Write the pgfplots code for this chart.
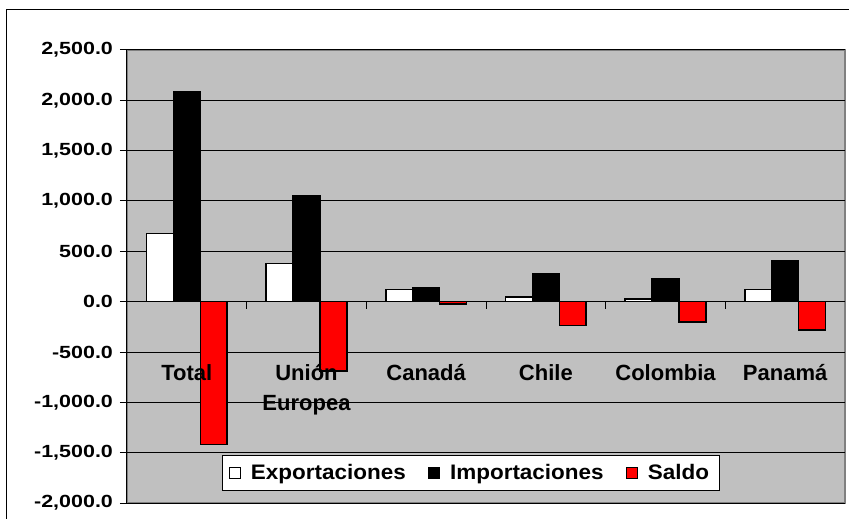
\documentclass[border=0pt]{standalone}
\usepackage{fontspec}
\setmainfont{Liberation Sans}
\newfontfamily\tickfont{Liberation Sans}[FakeStretch=1.22]
\newfontfamily\legfont{Liberation Sans}[FakeStretch=1.07]
\usepackage{pgfplots}
\pgfplotsset{compat=1.18}
\definecolor{plotgray}{HTML}{C0C0C0}
\definecolor{bordergray}{HTML}{808080}
\pgfplotsset{common/.style={
  at={(0,0)}, anchor=south west,
  scale only axis, width=359pt, height=226.5pt,
  ymin=-2000, ymax=2500,
  xmin=-0.5, xmax=5.5,
  ytick={-2000,-1500,...,2500}}}
\begin{document}
\begin{tikzpicture}
% background and gridlines
\begin{axis}[common,
  axis background/.style={fill=plotgray, draw=bordergray, line width=0.75pt},
  axis line style={draw=none},
  xtick=\empty, yticklabels={}, ytick style={draw=none},
  ymajorgrids, grid style={black, line width=0.5pt}]
\end{axis}
% bars, axes, labels
\begin{axis}[common,
  axis on top,
  ybar=0pt, bar width=0.225,
  axis x line*=middle, axis y line*=left,
  axis line style={-, black, line width=0.5pt},
  hide obscured x ticks=false, hide obscured y ticks=false,
  ytick pos=left, ytick align=outside, major tick length=3.5pt,
  ytick style={black, line width=0.5pt},
  y tick label style={font=\tickfont\bfseries\fontsize{8.8}{10}\selectfont},
  yticklabel style={/pgf/number format/fixed, /pgf/number format/fixed zerofill, /pgf/number format/precision=1, /pgf/number format/1000 sep={,}, /pgf/number format/assume math mode=true},
  xtick={0,...,5},
  xticklabels={Total, {Unión\\Europea}, Canadá, Chile, Colombia, Panamá},
  xtick style={draw=none},
  x tick label style={font=\bfseries\fontsize{11}{15}\selectfont, align=center, anchor=north, yshift=-24.5pt},
  extra x ticks={0.5,1.5,2.5,3.5,4.5},
  extra x tick labels={},
  extra x tick style={xtick style={draw=black, line width=0.5pt}, tick align=outside, grid=none},
  legend columns=3,
  legend style={at={(0.479,0.066)}, anchor=center, draw=black, fill=white, line width=0.5pt,
    font=\legfont\bfseries\fontsize{10.5}{12}\selectfont,
    /tikz/every even column/.append style={column sep=9pt}},
]
\addplot[fill=white, draw=black, line width=0.75pt,
  legend image code/.code={\draw[fill=white,draw=black,line width=0.5pt] (0pt,-2.8pt) rectangle (5.6pt,2.8pt); \path (8.5pt,0pt);}]
  coordinates {(0,675) (1,377) (2,119) (3,46) (4,26) (5,122)};
\addplot[fill=black, draw=black, line width=0.75pt,
  legend image code/.code={\draw[fill=black,draw=black,line width=0.5pt] (0pt,-2.8pt) rectangle (5.6pt,2.8pt); \path (8.5pt,0pt);}]
  coordinates {(0,2086) (1,1055) (2,142) (3,281) (4,224) (5,402)};
\addplot[fill=red, draw=black, line width=0.75pt,
  legend image code/.code={\draw[fill=red,draw=black,line width=0.5pt] (0pt,-2.8pt) rectangle (5.6pt,2.8pt); \path (8.5pt,0pt);}]
  coordinates {(0,-1420) (1,-688) (2,-23) (3,-238) (4,-200) (5,-281)};
\legend{Exportaciones, Importaciones, Saldo}
\end{axis}
\draw[black, line width=0.5pt] (-60pt,-20pt) -- (-60pt,246.5pt) -- (380pt,246.5pt);
\pgfresetboundingbox
\useasboundingbox (-63.5pt,-7.5pt) rectangle (361pt,251.5pt);
\end{tikzpicture}
\end{document}
